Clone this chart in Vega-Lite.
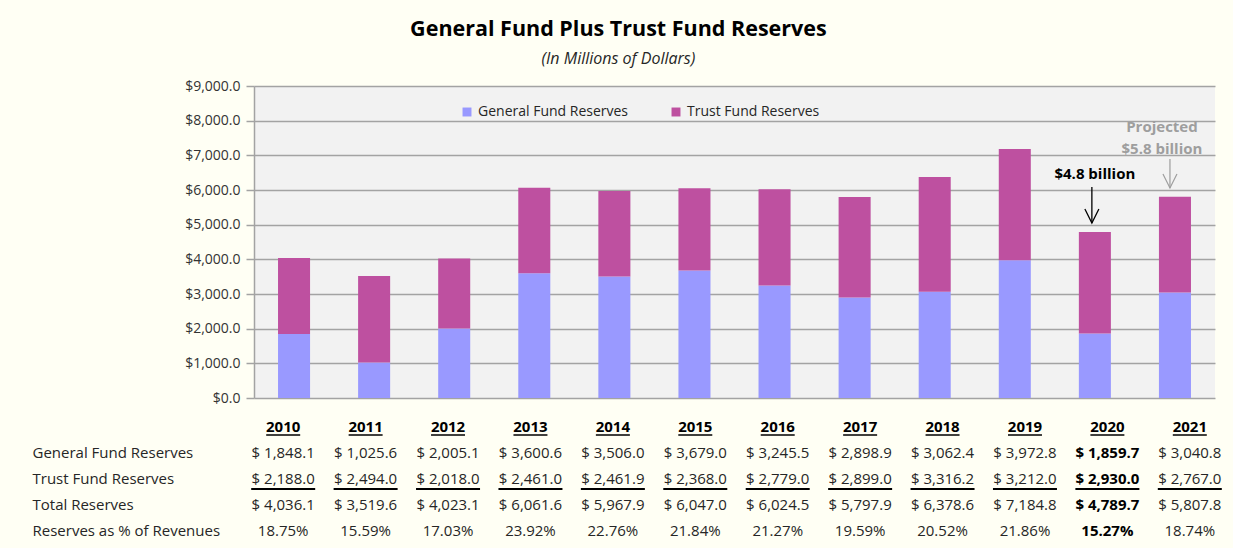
{
  "$schema": "https://vega.github.io/schema/vega-lite/v6.json",
  "background": "#fffff4",
  "padding": {"left": 32, "top": 18, "right": 10, "bottom": 5},
  "title": {
    "text": "General Fund Plus Trust Fund Reserves",
    "subtitle": "(In Millions of Dollars)",
    "anchor": "middle",
    "frame": "bounds",
    "dx": -9,
    "font": "Open Sans",
    "fontSize": 21.5,
    "fontWeight": "bold",
    "color": "#000000",
    "subtitleFont": "Open Sans",
    "subtitleFontSize": 16,
    "subtitleFontStyle": "italic",
    "subtitleColor": "#262626",
    "subtitlePadding": 11,
    "offset": 12
  },
  "datasets": {
    "reserves": [
      {"year": "2010", "general": 1848.1, "trust": 2188.0, "total": 4036.1, "pct": 0.1875},
      {"year": "2011", "general": 1025.6, "trust": 2494.0, "total": 3519.6, "pct": 0.1559},
      {"year": "2012", "general": 2005.1, "trust": 2018.0, "total": 4023.1, "pct": 0.1703},
      {"year": "2013", "general": 3600.6, "trust": 2461.0, "total": 6061.6, "pct": 0.2392},
      {"year": "2014", "general": 3506.0, "trust": 2461.9, "total": 5967.9, "pct": 0.2276},
      {"year": "2015", "general": 3679.0, "trust": 2368.0, "total": 6047.0, "pct": 0.2184},
      {"year": "2016", "general": 3245.5, "trust": 2779.0, "total": 6024.5, "pct": 0.2127},
      {"year": "2017", "general": 2898.9, "trust": 2899.0, "total": 5797.9, "pct": 0.1959},
      {"year": "2018", "general": 3062.4, "trust": 3316.2, "total": 6378.6, "pct": 0.2052},
      {"year": "2019", "general": 3972.8, "trust": 3212.0, "total": 7184.8, "pct": 0.2186},
      {"year": "2020", "general": 1859.7, "trust": 2930.0, "total": 4789.7, "pct": 0.1527},
      {"year": "2021", "general": 3040.8, "trust": 2767.0, "total": 5807.8, "pct": 0.1874}
    ]
  },
  "spacing": 9,
  "resolve": {"scale": {"x": "independent", "y": "independent", "color": "independent"}},
  "vconcat": [
    {
      "width": 961,
      "height": 312,
      "view": {"fill": "#f2f2f2", "stroke": null},
      "layer": [
        {
          "data": {"name": "reserves"},
          "transform": [{"fold": ["general", "trust"], "as": ["series", "amount"]}],
          "mark": {"type": "bar"},
          "encoding": {
            "x": {"field": "year", "type": "nominal", "scale": {"paddingInner": 0.6, "paddingOuter": 0.3}, "axis": null},
            "y": {
              "field": "amount", "type": "quantitative", "stack": "zero",
              "scale": {"domain": [0, 9000], "nice": false},
              "axis": {"values": [0, 1000, 2000, 3000, 4000, 5000, 6000, 7000, 8000, 9000], "format": ",.1f", "labelExpr": "'$' + datum.label", "title": null, "grid": true, "gridColor": "#a3a3a3", "gridWidth": 1.5, "domainColor": "#a3a3a3", "domainWidth": 1.5, "tickColor": "#a3a3a3", "tickWidth": 1.5, "tickSize": 8, "labelPadding": 6, "labelFont": "Open Sans", "labelFontSize": 14, "labelColor": "#333333", "labelOverlap": false}
            },
            "color": {
              "field": "series", "type": "nominal",
              "scale": {"domain": ["general", "trust"], "range": ["#9999ff", "#be50a0"]},
              "legend": {
                "orient": "none",
                "legendX": 206,
                "legendY": 19,
                "direction": "horizontal",
                "title": null,
                "symbolType": "square",
                "symbolSize": 80,
                "symbolStrokeWidth": 0,
                "labelFont": "Open Sans",
                "labelFontSize": 14,
                "labelColor": "#262626",
                "columnPadding": 40,
                "labelExpr": "datum.value == 'general' ? 'General Fund Reserves' : 'Trust Fund Reserves'"
              }
            },
            "order": {"field": "series", "sort": "ascending"}
          }
        },
        {
          "data": {"values": [{}]},
          "mark": {"type": "text", "fontWeight": "bold", "fontSize": 15, "font": "Open Sans", "color": "#000000", "baseline": "middle"},
          "encoding": {
            "x": {"datum": "2020", "type": "nominal", "axis": null},
            "y": {"datum": 6461, "type": "quantitative", "axis": {"values": [0, 1000, 2000, 3000, 4000, 5000, 6000, 7000, 8000, 9000], "format": ",.1f", "labelExpr": "'$' + datum.label", "title": null, "grid": true, "gridColor": "#a3a3a3", "gridWidth": 1.5, "domainColor": "#a3a3a3", "domainWidth": 1.5, "tickColor": "#a3a3a3", "tickWidth": 1.5, "tickSize": 8, "labelPadding": 6, "labelFont": "Open Sans", "labelFontSize": 14, "labelColor": "#333333", "labelOverlap": false}},
            "text": {"value": "$4.8 billion"}
          }
        },
        {
          "data": {"values": [{}]},
          "mark": {"type": "rule", "color": "#000000", "strokeWidth": 1.3, "xOffset": -3},
          "encoding": {
            "x": {"datum": "2020", "type": "nominal", "axis": null},
            "y": {"datum": 6090, "type": "quantitative", "axis": {"values": [0, 1000, 2000, 3000, 4000, 5000, 6000, 7000, 8000, 9000], "format": ",.1f", "labelExpr": "'$' + datum.label", "title": null, "grid": true, "gridColor": "#a3a3a3", "gridWidth": 1.5, "domainColor": "#a3a3a3", "domainWidth": 1.5, "tickColor": "#a3a3a3", "tickWidth": 1.5, "tickSize": 8, "labelPadding": 6, "labelFont": "Open Sans", "labelFontSize": 14, "labelColor": "#333333", "labelOverlap": false}},
            "y2": {"datum": 5048}
          }
        },
        {
          "data": {"values": [{}]},
          "mark": {"type": "point", "shape": "M-0.5,-1L0,0L0.5,-1", "size": 784, "filled": false, "stroke": "#000000", "strokeWidth": 1.3, "opacity": 1, "xOffset": -3},
          "encoding": {
            "x": {"datum": "2020", "type": "nominal", "axis": null},
            "y": {"datum": 5048, "type": "quantitative", "axis": {"values": [0, 1000, 2000, 3000, 4000, 5000, 6000, 7000, 8000, 9000], "format": ",.1f", "labelExpr": "'$' + datum.label", "title": null, "grid": true, "gridColor": "#a3a3a3", "gridWidth": 1.5, "domainColor": "#a3a3a3", "domainWidth": 1.5, "tickColor": "#a3a3a3", "tickWidth": 1.5, "tickSize": 8, "labelPadding": 6, "labelFont": "Open Sans", "labelFontSize": 14, "labelColor": "#333333", "labelOverlap": false}}
          }
        },
        {
          "data": {"values": [{}]},
          "mark": {"type": "text", "fontWeight": "bold", "fontSize": 15, "font": "Open Sans", "color": "#9e9e9e", "baseline": "middle", "dx": -13},
          "encoding": {
            "x": {"datum": "2021", "type": "nominal", "axis": null},
            "y": {"datum": 7817, "type": "quantitative", "axis": {"values": [0, 1000, 2000, 3000, 4000, 5000, 6000, 7000, 8000, 9000], "format": ",.1f", "labelExpr": "'$' + datum.label", "title": null, "grid": true, "gridColor": "#a3a3a3", "gridWidth": 1.5, "domainColor": "#a3a3a3", "domainWidth": 1.5, "tickColor": "#a3a3a3", "tickWidth": 1.5, "tickSize": 8, "labelPadding": 6, "labelFont": "Open Sans", "labelFontSize": 14, "labelColor": "#333333", "labelOverlap": false}},
            "text": {"value": "Projected"}
          }
        },
        {
          "data": {"values": [{}]},
          "mark": {"type": "text", "fontWeight": "bold", "fontSize": 15, "font": "Open Sans", "color": "#9e9e9e", "baseline": "middle", "dx": -13},
          "encoding": {
            "x": {"datum": "2021", "type": "nominal", "axis": null},
            "y": {"datum": 7183, "type": "quantitative", "axis": {"values": [0, 1000, 2000, 3000, 4000, 5000, 6000, 7000, 8000, 9000], "format": ",.1f", "labelExpr": "'$' + datum.label", "title": null, "grid": true, "gridColor": "#a3a3a3", "gridWidth": 1.5, "domainColor": "#a3a3a3", "domainWidth": 1.5, "tickColor": "#a3a3a3", "tickWidth": 1.5, "tickSize": 8, "labelPadding": 6, "labelFont": "Open Sans", "labelFontSize": 14, "labelColor": "#333333", "labelOverlap": false}},
            "text": {"value": "$5.8 billion"}
          }
        },
        {
          "data": {"values": [{}]},
          "mark": {"type": "rule", "color": "#9e9e9e", "strokeWidth": 1.2, "xOffset": -5},
          "encoding": {
            "x": {"datum": "2021", "type": "nominal", "axis": null},
            "y": {"datum": 6894, "type": "quantitative", "axis": {"values": [0, 1000, 2000, 3000, 4000, 5000, 6000, 7000, 8000, 9000], "format": ",.1f", "labelExpr": "'$' + datum.label", "title": null, "grid": true, "gridColor": "#a3a3a3", "gridWidth": 1.5, "domainColor": "#a3a3a3", "domainWidth": 1.5, "tickColor": "#a3a3a3", "tickWidth": 1.5, "tickSize": 8, "labelPadding": 6, "labelFont": "Open Sans", "labelFontSize": 14, "labelColor": "#333333", "labelOverlap": false}},
            "y2": {"datum": 6058}
          }
        },
        {
          "data": {"values": [{}]},
          "mark": {"type": "point", "shape": "M-0.5,-1L0,0L0.5,-1", "size": 784, "filled": false, "stroke": "#9e9e9e", "strokeWidth": 1.2, "opacity": 1, "xOffset": -5},
          "encoding": {
            "x": {"datum": "2021", "type": "nominal", "axis": null},
            "y": {"datum": 6058, "type": "quantitative", "axis": {"values": [0, 1000, 2000, 3000, 4000, 5000, 6000, 7000, 8000, 9000], "format": ",.1f", "labelExpr": "'$' + datum.label", "title": null, "grid": true, "gridColor": "#a3a3a3", "gridWidth": 1.5, "domainColor": "#a3a3a3", "domainWidth": 1.5, "tickColor": "#a3a3a3", "tickWidth": 1.5, "tickSize": 8, "labelPadding": 6, "labelFont": "Open Sans", "labelFontSize": 14, "labelColor": "#333333", "labelOverlap": false}}
          }
        }
      ]
    },
    {
      "width": 961,
      "height": 130,
      "view": {"stroke": null},
      "data": {"name": "reserves"},
      "encoding": {
        "x": {"field": "year", "type": "ordinal", "scale": {"type": "point", "padding": 0.33}, "axis": null}
      },
      "layer": [
        {
          "mark": {"type": "text", "fontWeight": "bold", "fontSize": 15, "font": "Open Sans", "color": "#000000", "baseline": "middle", "dx": 2},
          "encoding": {
            "y": {"datum": "year", "type": "nominal", "scale": {"type": "band", "domain": ["year", "general", "trust", "total", "pct"], "paddingInner": 0, "paddingOuter": 0}, "axis": {"title": null, "domain": false, "ticks": false, "tickSize": 0, "grid": false, "labelAlign": "left", "labelBaseline": "middle", "labelPadding": 222, "labelFont": "Open Sans", "labelFontSize": 15, "labelColor": "#262626", "labelLimit": 400, "labelExpr": "datum.value == 'general' ? 'General Fund Reserves' : datum.value == 'trust' ? 'Trust Fund Reserves' : datum.value == 'total' ? 'Total Reserves' : datum.value == 'pct' ? 'Reserves as % of Revenues' : ''"}},
            "text": {"field": "year"}
          }
        },
        {
          "mark": {"type": "rule", "color": "#000000", "strokeWidth": 1.5, "yOffset": 8, "xOffset": -15, "x2Offset": 19},
          "encoding": {
            "y": {"datum": "year", "type": "nominal", "scale": {"type": "band", "domain": ["year", "general", "trust", "total", "pct"], "paddingInner": 0, "paddingOuter": 0}, "axis": {"title": null, "domain": false, "ticks": false, "tickSize": 0, "grid": false, "labelAlign": "left", "labelBaseline": "middle", "labelPadding": 222, "labelFont": "Open Sans", "labelFontSize": 15, "labelColor": "#262626", "labelLimit": 400, "labelExpr": "datum.value == 'general' ? 'General Fund Reserves' : datum.value == 'trust' ? 'Trust Fund Reserves' : datum.value == 'total' ? 'Total Reserves' : datum.value == 'pct' ? 'Reserves as % of Revenues' : ''"}},
            "x2": {"field": "year"}
          }
        },
        {
          "transform": [
            {"filter": "datum.year != '2020'"},
            {"fold": ["general", "trust", "total"], "as": ["row", "value"]}
          ],
          "mark": {"type": "text", "fontSize": 15, "font": "Open Sans", "color": "#262626", "baseline": "middle", "dx": 2},
          "encoding": {
            "y": {"field": "row", "type": "nominal", "scale": {"type": "band", "domain": ["year", "general", "trust", "total", "pct"], "paddingInner": 0, "paddingOuter": 0}, "axis": {"title": null, "domain": false, "ticks": false, "tickSize": 0, "grid": false, "labelAlign": "left", "labelBaseline": "middle", "labelPadding": 222, "labelFont": "Open Sans", "labelFontSize": 15, "labelColor": "#262626", "labelLimit": 400, "labelExpr": "datum.value == 'general' ? 'General Fund Reserves' : datum.value == 'trust' ? 'Trust Fund Reserves' : datum.value == 'total' ? 'Total Reserves' : datum.value == 'pct' ? 'Reserves as % of Revenues' : ''"}},
            "text": {"field": "value", "type": "quantitative", "format": "$,.1f"}
          }
        },
        {
          "transform": [
            {"filter": "datum.year == '2020'"},
            {"fold": ["general", "trust", "total"], "as": ["row", "value"]}
          ],
          "mark": {"type": "text", "fontSize": 15, "fontWeight": "bold", "font": "Open Sans", "color": "#000000", "baseline": "middle", "dx": 2},
          "encoding": {
            "y": {"field": "row", "type": "nominal", "scale": {"type": "band", "domain": ["year", "general", "trust", "total", "pct"], "paddingInner": 0, "paddingOuter": 0}, "axis": {"title": null, "domain": false, "ticks": false, "tickSize": 0, "grid": false, "labelAlign": "left", "labelBaseline": "middle", "labelPadding": 222, "labelFont": "Open Sans", "labelFontSize": 15, "labelColor": "#262626", "labelLimit": 400, "labelExpr": "datum.value == 'general' ? 'General Fund Reserves' : datum.value == 'trust' ? 'Trust Fund Reserves' : datum.value == 'total' ? 'Total Reserves' : datum.value == 'pct' ? 'Reserves as % of Revenues' : ''"}},
            "text": {"field": "value", "type": "quantitative", "format": "$,.1f"}
          }
        },
        {
          "transform": [{"filter": "datum.year != '2020'"}],
          "mark": {"type": "text", "fontSize": 15, "font": "Open Sans", "color": "#262626", "baseline": "middle", "dx": 2},
          "encoding": {
            "y": {"datum": "pct", "type": "nominal", "scale": {"type": "band", "domain": ["year", "general", "trust", "total", "pct"], "paddingInner": 0, "paddingOuter": 0}, "axis": {"title": null, "domain": false, "ticks": false, "tickSize": 0, "grid": false, "labelAlign": "left", "labelBaseline": "middle", "labelPadding": 222, "labelFont": "Open Sans", "labelFontSize": 15, "labelColor": "#262626", "labelLimit": 400, "labelExpr": "datum.value == 'general' ? 'General Fund Reserves' : datum.value == 'trust' ? 'Trust Fund Reserves' : datum.value == 'total' ? 'Total Reserves' : datum.value == 'pct' ? 'Reserves as % of Revenues' : ''"}},
            "text": {"field": "pct", "type": "quantitative", "format": ".2%"}
          }
        },
        {
          "transform": [{"filter": "datum.year == '2020'"}],
          "mark": {"type": "text", "fontSize": 15, "fontWeight": "bold", "font": "Open Sans", "color": "#000000", "baseline": "middle", "dx": 2},
          "encoding": {
            "y": {"datum": "pct", "type": "nominal", "scale": {"type": "band", "domain": ["year", "general", "trust", "total", "pct"], "paddingInner": 0, "paddingOuter": 0}, "axis": {"title": null, "domain": false, "ticks": false, "tickSize": 0, "grid": false, "labelAlign": "left", "labelBaseline": "middle", "labelPadding": 222, "labelFont": "Open Sans", "labelFontSize": 15, "labelColor": "#262626", "labelLimit": 400, "labelExpr": "datum.value == 'general' ? 'General Fund Reserves' : datum.value == 'trust' ? 'Trust Fund Reserves' : datum.value == 'total' ? 'Total Reserves' : datum.value == 'pct' ? 'Reserves as % of Revenues' : ''"}},
            "text": {"field": "pct", "type": "quantitative", "format": ".2%"}
          }
        },
        {
          "mark": {"type": "rule", "color": "#000000", "strokeWidth": 2, "yOffset": 10, "xOffset": -30, "x2Offset": 34},
          "encoding": {
            "y": {"datum": "trust", "type": "nominal", "scale": {"type": "band", "domain": ["year", "general", "trust", "total", "pct"], "paddingInner": 0, "paddingOuter": 0}, "axis": {"title": null, "domain": false, "ticks": false, "tickSize": 0, "grid": false, "labelAlign": "left", "labelBaseline": "middle", "labelPadding": 222, "labelFont": "Open Sans", "labelFontSize": 15, "labelColor": "#262626", "labelLimit": 400, "labelExpr": "datum.value == 'general' ? 'General Fund Reserves' : datum.value == 'trust' ? 'Trust Fund Reserves' : datum.value == 'total' ? 'Total Reserves' : datum.value == 'pct' ? 'Reserves as % of Revenues' : ''"}},
            "x2": {"field": "year"}
          }
        }
      ]
    }
  ],
  "config": {
    "font": "Open Sans",
    "locale": {
      "number": {"decimal": ".", "thousands": ",", "grouping": [3], "currency": ["$ ", ""]}
    }
  }
}
